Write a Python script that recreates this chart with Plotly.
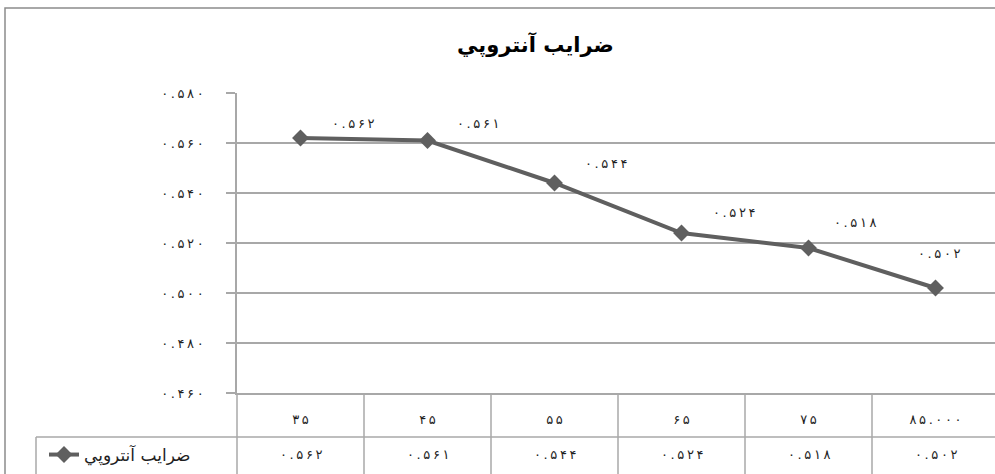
import plotly.graph_objects as go

# ---------------- data ----------------
categories = ["۳۵", "۴۵", "۵۵", "۶۵", "۷۵", "۸۵.۰۰۰"]
values = [0.562, 0.561, 0.544, 0.524, 0.518, 0.502]
series_name = "ضرایب آنتروپي"
title_text = "ضرایب آنتروپي"
y_tick_values = [0.46, 0.48, 0.50, 0.52, 0.54, 0.56, 0.58]

# ---------------- helpers ----------------
FA = str.maketrans("0123456789", "۰۱۲۳۴۵۶۷۸۹")
SP = "\u2009"


def spaced(s):
    return SP.join(list(s))


def fa(v, nd=3):
    return spaced(f"{v:.{nd}f}".translate(FA))


W, H = 995, 474
L, T, B = 237, 93, 81
PW = W - L            # plot width in px
PH = H - T - B        # plot height in px
CELL = 127            # px per category


def px(xp):
    return (xp - L) / PW


def py(yp):
    return (T + PH - yp) / PH


FONT = "DejaVu Sans, Tahoma, Arial"
LINE_COL = "#5f5f5f"
GRID_COL = "#a8a8a8"
TXT = "#1e1e1e"
NUM = 13

fig = go.Figure()
fig.add_trace(go.Scatter(
    x=categories, y=values, mode="lines+markers", name=series_name,
    line=dict(color=LINE_COL, width=4),
    marker=dict(symbol="diamond", size=13, color=LINE_COL),
    showlegend=True,
))

# data labels (offsets are styling only)
label_shift = [(52, 15), (50, 17), (51, 20), (52, 21), (46, 26), (3, 35)]
ann = []
for c, v, (dx, dy) in zip(categories, values, label_shift):
    ann.append(dict(x=c, y=v, xref="x", yref="y", text=fa(v), showarrow=False,
                    xshift=dx, yshift=dy, font=dict(size=NUM, color=TXT, family=FONT)))

# data-table value row
for c, v in zip(categories, values):
    ann.append(dict(x=c, y=py(454), xref="x", yref="paper", text=fa(v), showarrow=False,
                    yanchor="middle", font=dict(size=NUM, color=TXT, family=FONT)))

# title
ann.append(dict(x=px(535), y=py(44), xref="paper", yref="paper", text=title_text,
                showarrow=False, xanchor="center", yanchor="middle",
                font=dict(size=21, color="#000", family=FONT, weight="bold")))

shapes = []
# outer chart border
shapes.append(dict(type="rect", xref="paper", yref="paper", x0=px(5), x1=px(1200),
                   y0=py(700), y1=py(8), line=dict(color="#8c8c8c", width=1.5)))
# table horizontal line between header and value row
shapes.append(dict(type="line", xref="paper", yref="paper", x0=px(36), x1=px(1200),
                   y0=py(437), y1=py(437), line=dict(color=GRID_COL, width=1.5)))
# left border of the legend row
shapes.append(dict(type="line", xref="paper", yref="paper", x0=px(36), x1=px(36),
                   y0=py(437), y1=py(700), line=dict(color=GRID_COL, width=1.5)))
# left border of the table under the axis
shapes.append(dict(type="line", xref="paper", yref="paper", x0=0, x1=0,
                   y0=0, y1=py(700), line=dict(color=GRID_COL, width=1.5)))
# vertical cell separators
for i in range(len(categories) - 1):
    shapes.append(dict(type="line", xref="x", yref="paper", x0=i + 0.5, x1=i + 0.5,
                       y0=0, y1=py(700), line=dict(color=GRID_COL, width=1.5)))

fig.update_layout(
    width=W, height=H,
    margin=dict(l=L, r=0, t=T, b=B, pad=0),
    paper_bgcolor="white", plot_bgcolor="white",
    font=dict(family=FONT, size=NUM, color=TXT),
    annotations=ann, shapes=shapes,
    legend=dict(x=px(44), y=py(455), xanchor="left", yanchor="middle",
                bgcolor="rgba(0,0,0,0)", font=dict(size=17, color=TXT, family=FONT),
                itemwidth=30),
)
fig.update_xaxes(
    type="category", range=[-0.5, -0.5 + PW / CELL],
    tickvals=categories, ticktext=[spaced(c) for c in categories],
    showgrid=False, showline=True, linecolor=GRID_COL, linewidth=1.5,
    ticks="", ticklabelstandoff=14, tickfont=dict(size=NUM, color=TXT, family=FONT),
    fixedrange=True,
)
fig.update_yaxes(
    range=[0.46, 0.58], tickvals=y_tick_values,
    ticktext=[fa(v) for v in y_tick_values],
    showgrid=True, gridcolor=GRID_COL, gridwidth=1.5,
    showline=True, linecolor=GRID_COL, linewidth=1.5,
    ticks="outside", ticklen=9, tickcolor=GRID_COL, tickwidth=1.5,
    ticklabelstandoff=20, tickfont=dict(size=NUM, color=TXT, family=FONT),
    zeroline=False, fixedrange=True,
)

fig.write_html("out.html")
